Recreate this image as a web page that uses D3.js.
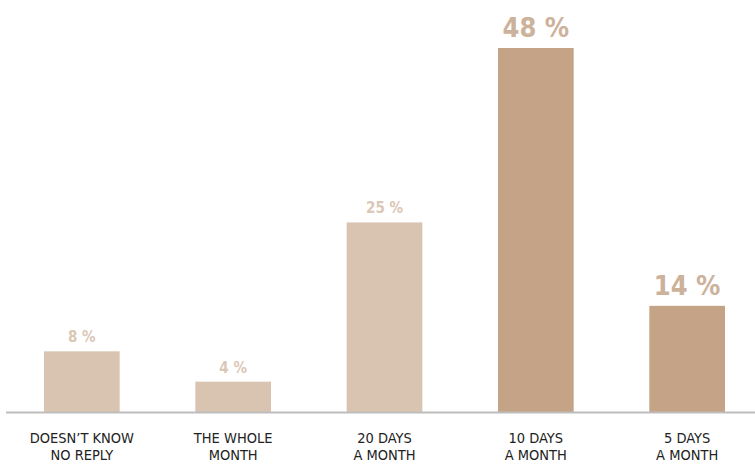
<!DOCTYPE html>
<html>
<head>
<meta charset="utf-8">
<script src="https://cdn.jsdelivr.net/npm/d3@7"></script>
<style>
  body { margin: 0; background: #fff; }
  svg { display: block; }
  text { font-family: "DejaVu Sans Condensed", "Liberation Sans Narrow", sans-serif; font-stretch: condensed; }
</style>
</head>
<body>
<div id="chart-area"></div>
<script>
// chart data
let categories = ["DOESN\u2019T KNOW|NO REPLY", "THE WHOLE|MONTH", "20 DAYS|A MONTH", "10 DAYS|A MONTH", "5 DAYS|A MONTH"];
let values = [8, 4, 25, 48, 14];
let highlighted = [false, false, false, true, true];

let width = 755,
	height = 464;

let baseY = 412;

let svg = d3.select("#chart-area")
	.append("svg")
	.attr("width", width)
	.attr("height", height);

let x = d3.scaleBand()
	.domain(categories)
	.range([44, 725])
	.paddingInner(0.5)
	.paddingOuter(0);

let y = d3.scaleLinear()
	.domain([0, 48])
	.range([baseY, 48]);

let data = categories.map((c, i) => ({ cat: c, value: values[i], hi: highlighted[i] }));

// bars
svg.selectAll("rect.bar")
	.data(data)
	.enter()
	.append("rect")
	.attr("class", "bar")
	.attr("x", d => x(d.cat))
	.attr("y", d => y(d.value))
	.attr("width", x.bandwidth())
	.attr("height", d => baseY - y(d.value))
	.attr("fill", d => d.hi ? "#c4a386" : "#d9c4b1");

// baseline
svg.append("line")
	.attr("x1", 6)
	.attr("x2", width)
	.attr("y1", baseY + 0.5)
	.attr("y2", baseY + 0.5)
	.attr("stroke", "#bdbdbd")
	.attr("stroke-width", 2);

// value labels
svg.selectAll("text.value")
	.data(data)
	.enter()
	.append("text")
	.attr("class", "value")
	.attr("x", d => x(d.cat) + x.bandwidth() / 2)
	.attr("y", d => y(d.value) - (d.hi ? 11 : 9))
	.attr("text-anchor", "middle")
	.attr("font-weight", "bold")
	.attr("font-size", d => d.hi ? 27 : 15)
	.attr("fill", d => d.hi ? "#cdb29b" : "#dbc7b5")
	.text(d => d.value + " %");

// category labels
let labels = svg.selectAll("text.cat")
	.data(data)
	.enter()
	.append("text")
	.attr("class", "cat")
	.attr("text-anchor", "middle")
	.attr("font-size", 14.5)
	.attr("fill", "#222");

labels.selectAll("tspan")
	.data(d => d.cat.split("|").map(t => ({ t: t, cx: x(d.cat) + x.bandwidth() / 2 })))
	.enter()
	.append("tspan")
	.attr("x", d => d.cx)
	.attr("y", (d, i) => 443 + i * 17)
	.text(d => d.t);
</script>
</body>
</html>
